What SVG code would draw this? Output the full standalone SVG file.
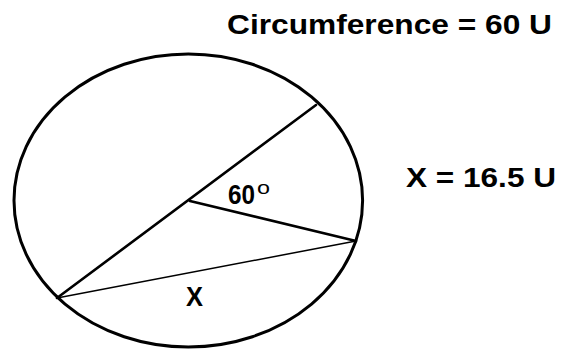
<svg xmlns="http://www.w3.org/2000/svg" width="572" height="349" viewBox="0 0 572 349">
<style>
.t{font-family:"Liberation Sans",Arial,sans-serif;font-weight:bold;fill:#000}
.s{fill:none;stroke:#000;stroke-linecap:round}
</style>
<rect width="572" height="349" fill="#fff"/>
<g id="circle"><ellipse class="s" cx="188.3" cy="200.5" rx="174.3" ry="146.5" stroke-width="3"/></g>
<g id="connectors">
<line class="s" x1="57" y1="298" x2="316" y2="105" stroke-width="2.6"/>
<line class="s" x1="190" y1="201" x2="356" y2="241" stroke-width="2.6"/>
<line class="s" x1="57" y1="298" x2="356" y2="241" stroke-width="1.5"/>
</g>
<g id="title"><text class="t" x="227" y="34" font-size="27" textLength="325" lengthAdjust="spacingAndGlyphs">Circumference = 60 U</text></g>
<g id="xvalue"><text class="t" x="406" y="187" font-size="27" textLength="150" lengthAdjust="spacingAndGlyphs">X = 16.5 U</text></g>
<g id="angle"><text class="t" x="228" y="204" font-size="28"><tspan textLength="27" lengthAdjust="spacingAndGlyphs">60</tspan><tspan x="257" y="194" font-size="18" style="font-weight:normal" textLength="13" lengthAdjust="spacingAndGlyphs">o</tspan></text></g>
<g id="xlabel"><text class="t" x="186" y="306" font-size="27" textLength="17" lengthAdjust="spacingAndGlyphs">X</text></g>
</svg>
